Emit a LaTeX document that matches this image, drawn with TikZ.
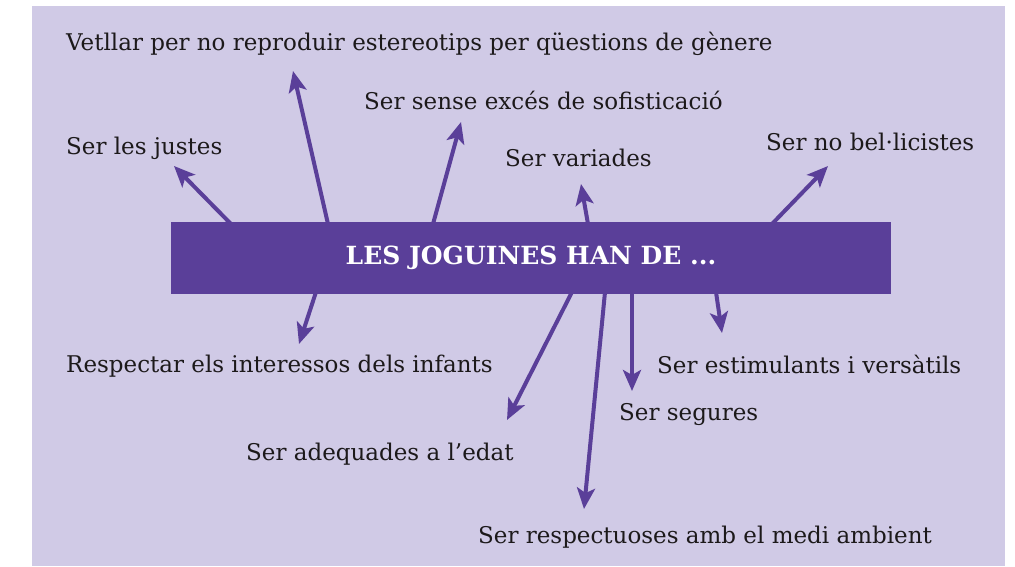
\documentclass[tikz,border=0pt]{standalone}
\usepackage{fontspec}
\setmainfont{DejaVu Serif}
\usetikzlibrary{arrows.meta}
\definecolor{lilac}{HTML}{D0CAE6}
\definecolor{toyviolet}{HTML}{5A3F99}
\definecolor{inkdark}{HTML}{1C191A}

\begin{document}
\begin{tikzpicture}[x=1pt,y=-1pt,
  lbl/.style={anchor=base west, inner sep=0pt, text=inkdark,
    font=\fontsize{23}{28}\selectfont},
  spoke/.style={draw=toyviolet, line width=4pt,
    -{Stealth[length=21pt,width=18pt,inset=5pt]}}]

\useasboundingbox (0,0) rectangle (1015,566);
\fill[lilac] (32,6) rectangle (1005,566);

% labels round the box
\node[lbl] (vetllar) at (66,50) {Vetllar per no reproduir estereotips per qüestions de gènere};
\node[lbl] (justes) at (66,154) {Ser les justes};
\node[lbl] (sense) at (364,109) {Ser sense excés de sofisticació};
\node[lbl] (variades) at (505,166) {Ser variades};
\node[lbl] (bellic) at (766,150) {Ser no bel·licistes};
\node[lbl] (respectar) at (66,372) {Respectar els interessos dels infants};
\node[lbl] (estimul) at (657,373) {Ser estimulants i versàtils};
\node[lbl] (segures) at (619,420) {Ser segures};
\node[lbl] (edat) at (246,460) {Ser adequades a l’edat};
\node[lbl] (medi) at (478,543) {Ser respectuoses amb el medi ambient};

% arrow ends
\coordinate (s1) at (231,224);  \coordinate (t1) at (174,166);
\coordinate (s2) at (328,224);  \coordinate (t2) at (293,71);
\coordinate (s3) at (433,224);  \coordinate (t3) at (461,122);
\coordinate (s4) at (588,224);  \coordinate (t4) at (581,184);
\coordinate (s5) at (772,224);  \coordinate (t5) at (828,166);
\coordinate (s6) at (316,292);  \coordinate (t6) at (299,344);
\coordinate (s7) at (572,292);  \coordinate (t7) at (507,420);
\coordinate (s8) at (605,292);  \coordinate (t8) at (584,509);
\coordinate (s9) at (632,292);  \coordinate (t9) at (632,391);
\coordinate (s10) at (716,292); \coordinate (t10) at (722,333);

\foreach \i in {1,...,10}
  \draw[spoke] (s\i) -- (t\i);

% central box
\node[fill=toyviolet, minimum width=720pt, minimum height=72pt, inner sep=0pt,
  text=white, font=\bfseries\fontsize{25}{30}\selectfont] (box) at (531,258)
  {LES JOGUINES HAN DE ...};

\end{tikzpicture}
\end{document}
